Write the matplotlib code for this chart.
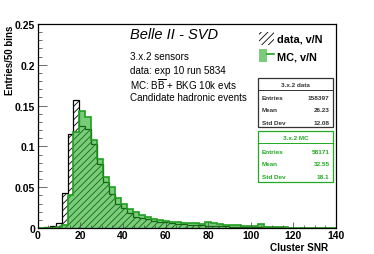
import numpy as np
import matplotlib
matplotlib.use("Agg")
import matplotlib.pyplot as plt
from matplotlib.patches import Patch, Rectangle
from matplotlib.lines import Line2D
from matplotlib.legend_handler import HandlerTuple
from matplotlib.ticker import MultipleLocator, FuncFormatter

plt.rcParams['font.family'] = ['Liberation Sans', 'DejaVu Sans']
plt.rcParams['hatch.linewidth'] = 0.6

# ---- data ----
x_min, x_max, n_bins = 0.0, 140.0, 50
data_vals = [0.0003, 0.0008, 0.0025, 0.0057, 0.043, 0.115, 0.157, 0.125, 0.121, 0.103,
             0.078, 0.056, 0.042, 0.029, 0.024, 0.018, 0.014, 0.012, 0.0105, 0.009,
             0.0078, 0.0068, 0.006, 0.0052, 0.0046, 0.004, 0.0036, 0.0032, 0.003, 0.0026,
             0.0022, 0.002, 0.0018, 0.0016, 0.0014, 0.0012, 0.0011, 0.001, 0.0009, 0.0008,
             0.0007, 0.0006, 0.0005, 0.0005, 0.0004, 0.0004, 0.0003, 0.0003, 0.0003, 0.0002]
mc_vals = [0.0002, 0.0003, 0.0005, 0.001, 0.004, 0.041, 0.118, 0.143, 0.136, 0.108,
           0.084, 0.062, 0.050, 0.037, 0.029, 0.023, 0.019, 0.016, 0.013, 0.011,
           0.0095, 0.0085, 0.0075, 0.007, 0.0065, 0.006, 0.0058, 0.0055, 0.0068, 0.0062,
           0.005, 0.0042, 0.0038, 0.0032, 0.003, 0.0028, 0.0022, 0.0055, 0.0012, 0.001,
           0.0008, 0.0007, 0.0006, 0.0005, 0.0005, 0.0004, 0.0004, 0.0003, 0.0003, 0.0003]
xticks = [0, 20, 40, 60, 80, 100, 120, 140]
yticks = [0, 0.05, 0.1, 0.15, 0.2, 0.25]
info_lines = ["3.x.2 sensors", "data: exp 10 run 5834",
              r"MC: B$\mathregular{\overline{B}}$ + BKG 10k evts", "Candidate hadronic events"]
stats_data = [("Entries", "158397"), ("Mean", "26.23"), ("Std Dev", "12.08")]
stats_mc = [("Entries", "58171"), ("Mean", "32.55"), ("Std Dev", "18.1")]

W, H = 374, 255
fig = plt.figure(figsize=(W / 100, H / 100), dpi=100)
def fx(px): return px / W
def fy(py): return 1 - py / H

ax = fig.add_axes([fx(37.7), fy(229), (336 - 37.7) / W, (229 - 25) / H])
edges = np.linspace(x_min, x_max, n_bins + 1)

green = '#1f9e1f'
ax.stairs(data_vals, edges, fill=True, facecolor='white', edgecolor='black',
          hatch='/////', linewidth=0.9, zorder=1)
ax.stairs(mc_vals, edges, fill=True, facecolor=(0.13, 0.67, 0.13, 0.6),
          edgecolor='none', zorder=1.1)
ax.stairs(mc_vals, edges, fill=False, edgecolor=green, linewidth=1.2, zorder=1.2)

ax.set_xlim(x_min, x_max)
ax.set_ylim(0, 0.25)
ax.set_xticks(xticks)
ax.set_yticks(yticks)
ax.xaxis.set_minor_locator(MultipleLocator(5))
ax.yaxis.set_minor_locator(MultipleLocator(0.01))
ax.yaxis.set_major_formatter(FuncFormatter(lambda v, p: '%g' % v))
ax.tick_params(axis='both', which='both', direction='in', color='#555555', width=0.6,
               labelsize=7.5, top=False, right=False)
ax.tick_params(axis='y', which='major', length=6.5, pad=2)
ax.tick_params(axis='y', which='minor', length=3.2)
ax.tick_params(axis='x', which='major', length=4.5, pad=1.5)
ax.tick_params(axis='x', which='minor', length=2.3)
for lab in ax.get_xticklabels() + ax.get_yticklabels():
    lab.set_fontweight('bold')
for s in ax.spines.values():
    s.set_linewidth(0.9)

fig.text(fx(10), fy(26), 'Entries/50 bins', rotation=90, ha='center', va='top',
         fontsize=7, fontweight='bold')
fig.text(fx(328), fy(248), 'Cluster SNR', ha='right', va='center',
         fontsize=7.2, fontweight='bold')

fig.text(fx(130), fy(35), 'Belle II - SVD', ha='left', va='center',
         fontsize=10.5, style='italic')
for i, t in enumerate(info_lines):
    fig.text(fx(130), fy(57 + 13.7 * i), t, ha='left', va='center', fontsize=7.1)

# legend
h_data = Patch(facecolor='white', edgecolor='black', hatch='/////', linewidth=0)
h_mc = (Patch(facecolor=(0.13, 0.67, 0.13, 0.6), edgecolor='none'),
        Line2D([], [], color=green, linewidth=1.2))
leg = fig.legend([h_data, h_mc], ['data, v/N', 'MC, v/N'],
                 handler_map={tuple: HandlerTuple(ndivide=None, pad=0)},
                 loc='upper left', bbox_to_anchor=(fx(259), fy(33)),
                 frameon=False, prop={'size': 7.8, 'weight': 'bold'},
                 handlelength=1.4, handleheight=1.4, handletextpad=0.3,
                 labelspacing=0.45, borderaxespad=0, borderpad=0)

# stats boxes
def stats_box(top, bottom, title, rows, color, title_y, sep_y, row_ys):
    r = Rectangle((fx(258.3), fy(bottom)), (332.7 - 258.3) / W, (bottom - top) / H,
                  transform=fig.transFigure, facecolor='white', edgecolor=color,
                  linewidth=0.9, zorder=5)
    fig.add_artist(r)
    fig.add_artist(Line2D([fx(258.3), fx(332.7)], [fy(sep_y), fy(sep_y)],
                          transform=fig.transFigure, color=color, linewidth=0.7, zorder=6))
    fig.text(fx(295.5), fy(title_y), title, ha='center', va='center', fontsize=4.6,
             fontweight='bold', color=color, zorder=7)
    for (k, v), yy in zip(rows, row_ys):
        fig.text(fx(261.5), fy(yy), k, ha='left', va='center', fontsize=4.6,
                 fontweight='bold', color=color, zorder=7)
        fig.text(fx(329.5), fy(yy), v, ha='right', va='center', fontsize=4.6,
                 fontweight='bold', color=color, zorder=7)

stats_box(79, 128.3, '3.x.2 data', stats_data, '#333333', 85.7, 90.7, [99, 111, 123.3])
stats_box(132.3, 183.3, '3.x.2 MC', stats_mc, '#22aa22', 139, 144, [152, 164.3, 177.3])

fig.savefig('out.png', dpi=100)
